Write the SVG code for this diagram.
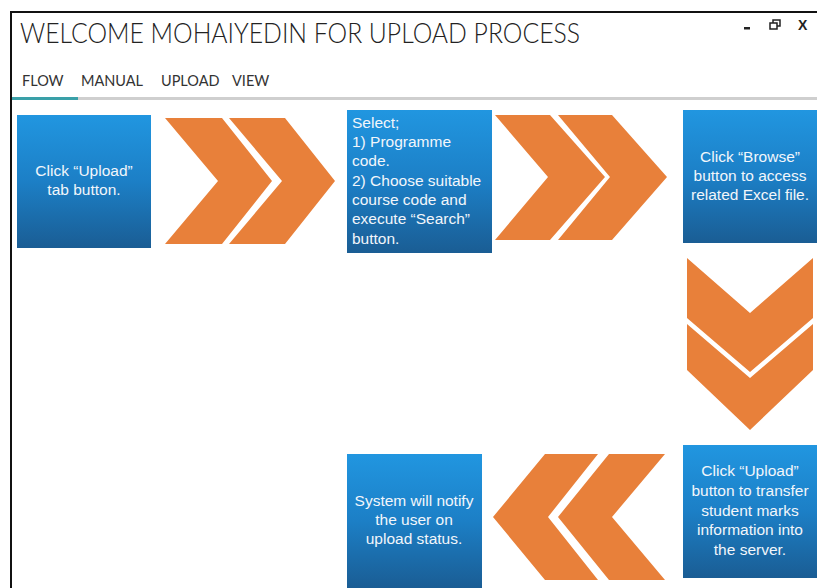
<svg xmlns="http://www.w3.org/2000/svg" width="817" height="588" viewBox="0 0 817 588">
<defs>
<linearGradient id="blue" x1="0" y1="0" x2="0" y2="1">
<stop offset="0" stop-color="#2196e0"/>
<stop offset="0.5" stop-color="#1c7fc6"/>
<stop offset="1" stop-color="#1a5d94"/>
</linearGradient>
<style>
.box{fill:url(#blue);}
.chev{fill:#e8803a;}
.t{font-family:"Liberation Sans",Arial,sans-serif;font-size:15.5px;fill:#f2f6fb;}
.c{text-anchor:middle;}
.title{font-family:Lato,"Open Sans",sans-serif;font-weight:300;font-size:27px;fill:#222;}
.tab{font-family:Lato,"Open Sans",sans-serif;font-weight:400;font-size:14.5px;fill:#333;}
</style>
</defs>
<rect width="817" height="588" fill="#fff"/>
<g id="window">
<path d="M11,588 V12 H817" fill="none" stroke="#111" stroke-width="2"/>
<text class="title" x="20" y="43" textLength="560" lengthAdjust="spacingAndGlyphs">WELCOME MOHAIYEDIN FOR UPLOAD PROCESS</text>
<rect x="744" y="27" width="6" height="2.5" fill="#222"/>
<rect x="773" y="20" width="7" height="6" fill="none" stroke="#222" stroke-width="1.5"/>
<rect x="770" y="23" width="7" height="6" fill="#fff" stroke="#222" stroke-width="1.5"/>
<text x="798" y="30" font-family="Liberation Sans,Arial,sans-serif" font-size="14" font-weight="bold" fill="#222">X</text>
<text class="tab" x="22" y="86">FLOW</text>
<text class="tab" x="81" y="86">MANUAL</text>
<text class="tab" x="161" y="86">UPLOAD</text>
<text class="tab" x="232" y="86">VIEW</text>
<rect x="12" y="97" width="805" height="3" fill="#cfcfcf"/>
<rect x="12" y="97" width="66" height="3" fill="#3aa0a8"/>
</g>
<g id="node1">
<rect class="box" x="17" y="115" width="134" height="133"/>
<text class="t c" x="84" y="176">Click “Upload”</text>
<text class="t c" x="84" y="195">tab button.</text>
</g>
<g id="node2">
<rect class="box" x="347" y="110" width="145" height="143"/>
<text class="t" x="352" y="128">Select;</text>
<text class="t" x="352" y="147">1) Programme</text>
<text class="t" x="352" y="166">code.</text>
<text class="t" x="352" y="186">2) Choose suitable</text>
<text class="t" x="352" y="205">course code and</text>
<text class="t" x="352" y="224">execute “Search”</text>
<text class="t" x="352" y="244">button.</text>
</g>
<g id="node3">
<rect class="box" x="683" y="110" width="134" height="133"/>
<text class="t c" x="750" y="162">Click “Browse”</text>
<text class="t c" x="750" y="181">button to access</text>
<text class="t c" x="750" y="200">related Excel file.</text>
</g>
<g id="node4">
<rect class="box" x="683" y="445" width="134" height="133"/>
<text class="t c" x="750" y="476">Click “Upload”</text>
<text class="t c" x="750" y="496">button to transfer</text>
<text class="t c" x="750" y="516">student marks</text>
<text class="t c" x="750" y="535">information into</text>
<text class="t c" x="750" y="555">the server.</text>
</g>
<g id="node5">
<rect class="box" x="347" y="454" width="135" height="134"/>
<text class="t c" x="414" y="506">System will notify</text>
<text class="t c" x="414" y="525">the user on</text>
<text class="t c" x="414" y="544">upload status.</text>
</g>
<g id="connectors">
<polygon class="chev" points="165,118 222,118 272,181 222,244 165,244 218,181"/>
<polygon class="chev" points="229,118 285,118 335,181 285,244 229,244 282,181"/>
<polygon class="chev" points="495,115 550,115 605,177 550,240 495,240 548,177"/>
<polygon class="chev" points="558,115 612,115 667,177 612,240 558,240 610,177"/>
<polygon class="chev" points="687,258 750,313 813,258 813,318 750,372 687,318"/>
<polygon class="chev" points="687,324 750,378 813,324 813,370 750,430 687,370"/>
<polygon class="chev" points="493,517 545,454 598,454 548,517 598,580 545,580"/>
<polygon class="chev" points="558,517 609,454 665,454 612,517 665,580 609,580"/>
</g>
</svg>
